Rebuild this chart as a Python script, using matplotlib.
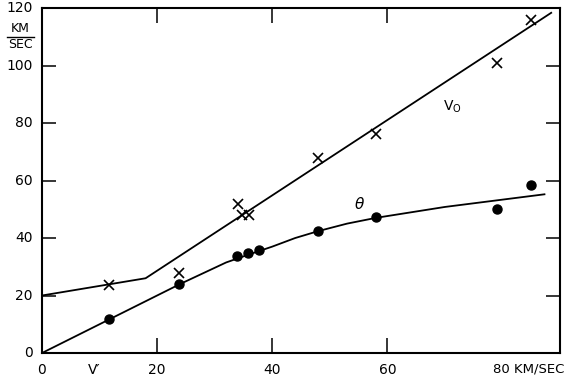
import matplotlib
matplotlib.use("Agg")
import matplotlib.pyplot as plt
from matplotlib.lines import Line2D

# Data
v0_x = [11.7, 23.8, 34.0, 34.8, 36.0, 48.0, 58.0, 79.0, 85.0]
v0_y = [23.7, 27.7, 52.0, 48.0, 48.0, 68.0, 76.2, 101.0, 116.0]
theta_x = [11.7, 23.8, 33.9, 35.8, 37.7, 47.9, 58.0, 79.0, 85.0]
theta_y = [11.7, 23.9, 33.7, 34.8, 35.8, 42.5, 47.2, 50.2, 58.4]

# Fitted curves (vertices)
v0_line_x = [0, 18.0, 88.6]
v0_line_y = [20.0, 26.0, 118.5]
theta_line_x = [0, 24.0, 32.0, 36.0, 40.0, 44.0, 48.0, 53.0, 58.0, 70.0, 87.3]
theta_line_y = [0, 24.0, 31.5, 34.3, 37.0, 40.0, 42.4, 45.0, 47.0, 50.8, 55.2]

xtick_major = [20, 40, 60]
xtick_labels_major = ["20", "40", "60"]
xtick_extra = [0, 9, 78.3]
xtick_labels_extra = ["0", "V\u2032", "80 KM/SEC"]
ytick_pos = [0, 20, 40, 60, 80, 100, 120]
ytick_labels = ["0", "20", "40", "60", "80", "100", "120"]

fig = plt.figure(figsize=(5.70, 3.83), dpi=100)
ax = fig.add_axes([42 / 570, 1 - 353 / 383, 518 / 570, 345 / 383])

ax.plot(v0_line_x, v0_line_y, color="black", lw=1.3, solid_capstyle="butt")
ax.plot(theta_line_x, theta_line_y, color="black", lw=1.3)
ax.plot(v0_x, v0_y, linestyle="none", marker="x", color="black",
        markersize=7, markeredgewidth=1.2)
ax.plot(theta_x, theta_y, linestyle="none", marker="o", color="black",
        markersize=6.5)

ax.set_xlim(0, 90)
ax.set_ylim(0, 120)

for sp in ax.spines.values():
    sp.set_linewidth(1.5)

fs = 10
ax.set_xticks(xtick_major)
ax.set_xticklabels(xtick_labels_major, fontsize=fs)
ax.tick_params(axis="x", which="major", direction="in", length=11, width=1.1,
               pad=7, top=True, bottom=True)
ax.set_yticks([20, 40, 60, 80, 100])
ax.set_yticklabels([], fontsize=fs)
ax.tick_params(axis="y", which="major", direction="in", length=10, width=1.1,
               left=True, right=True, labelleft=False)

# y tick labels (0 .. 120)
for p, lab in zip(ytick_pos, ytick_labels):
    ax.annotate(lab, xy=(0, p), xycoords=("axes fraction", "data"),
                xytext=(-6.5, 0), textcoords="offset points",
                ha="right", va="center", fontsize=fs)

# extra x labels: 0, V', 80 KM/SEC
for p, lab in zip(xtick_extra, xtick_labels_extra):
    ax.annotate(lab, xy=(p, 0), xycoords=("data", "axes fraction"),
                xytext=(0, -7), textcoords="offset points",
                ha="center" if lab != "80 KM/SEC" else "left",
                va="top", fontsize=fs if lab != "80 KM/SEC" else 9.5)

# Y unit as fraction KM / SEC
fig.text(20 / 570, 1 - 29 / 383, "KM", ha="center", va="center", fontsize=9)
fig.text(20 / 570, 1 - 44 / 383, "SEC", ha="center", va="center", fontsize=9)
fig.add_artist(Line2D([7 / 570, 34 / 570], [1 - 36.5 / 383, 1 - 36.5 / 383],
                      color="black", lw=1.0, transform=fig.transFigure))

# curve labels
ax.text(71.3, 85.5, r"V$_\mathrm{O}$", fontsize=10, ha="center", va="center")
ax.text(55.2, 52.0, r"$\theta$", fontsize=11, ha="center", va="center")

fig.savefig("out.png", dpi=100)
